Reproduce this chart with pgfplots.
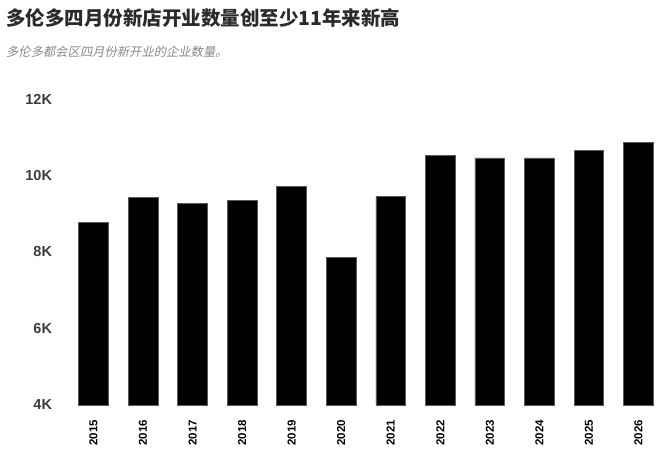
\documentclass[border=0pt]{standalone}
\usepackage{fontspec}
\setmainfont{Liberation Sans}
\newfontfamily\cjk{Noto Sans CJK SC}
\newfontfamily\cjkslant{Noto Sans CJK SC}[FakeSlant=0.2]
\usepackage{pgfplots}
\pgfplotsset{compat=1.18}
\definecolor{titlecol}{HTML}{2B2B2B}
\definecolor{subcol}{HTML}{8A8A8A}
\definecolor{ytickcol}{HTML}{3C3C3C}
\definecolor{barline}{HTML}{5A5A5A}
\begin{document}
\begin{tikzpicture}[x=1bp,y=1bp]
\useasboundingbox (0,0) rectangle (660,458);
\node[anchor=base west, inner sep=0pt, text=titlecol] at (6,432)
  {\cjk\bfseries\fontsize{19.5bp}{22bp}\selectfont 多伦多四月份新店开业数量创至少11年来新高};
\node[anchor=base west, inner sep=0pt, text=subcol] at (6,401.5)
  {\cjkslant\fontsize{12.3bp}{14bp}\selectfont 多伦多都会区四月份新开业的企业数量。};
\begin{axis}[
  at={(68.7bp,53bp)}, anchor=south west,
  scale only axis, width=589.6bp, height=306bp,
  xmin=-0.5, xmax=11.4, ymin=4000, ymax=12000,
  axis line style={draw=none},
  major tick length=0pt,
  scaled y ticks=false,
  ytick={4000,6000,8000,10000,12000},
  yticklabels={4K,6K,8K,10K,12K},
  xtick={0,1,2,3,4,5,6,7,8,9,10,11},
  xticklabels={2015,2016,2017,2018,2019,2020,2021,2022,2023,2024,2025,2026},
  yticklabel style={anchor=east, inner sep=0pt, xshift=-16.5bp, text=ytickcol,
    font=\bfseries\fontsize{14.5bp}{16bp}\selectfont},
  xticklabel style={yshift=-15bp, rotate=90, anchor=east, inner sep=0pt, text=black,
    font=\bfseries\fontsize{11.5bp}{13bp}\selectfont},
  clip=false,
]
\addplot[ybar, bar width=0.6, fill=black, draw=barline, line width=0.7bp]
  coordinates {
  (0,8770) (1,9420) (2,9270) (3,9340) (4,9710) (5,7850)
  (6,9450) (7,10520) (8,10460) (9,10460) (10,10660) (11,10860)
  };
\end{axis}
\end{tikzpicture}
\end{document}
